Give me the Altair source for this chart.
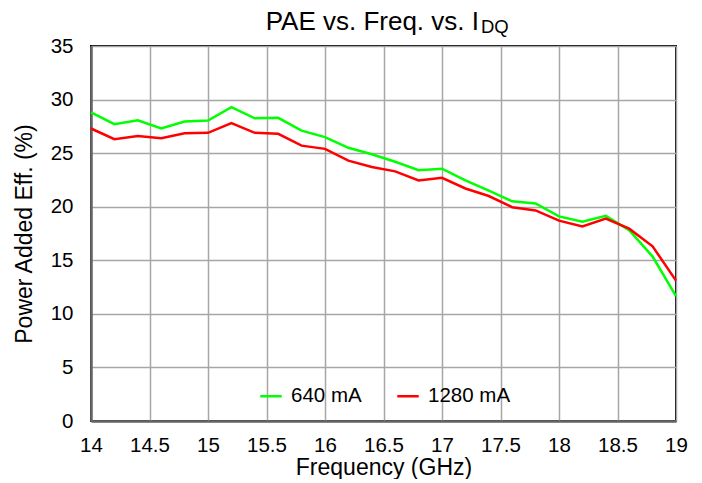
import altair as alt
import pandas as pd

freq = [14.0, 14.2, 14.4, 14.6, 14.8, 15.0, 15.2, 15.4, 15.6, 15.8, 16.0, 16.2, 16.4,
        16.6, 16.8, 17.0, 17.2, 17.4, 17.6, 17.8, 18.0, 18.2, 18.4, 18.6, 18.8, 19.0]
pae_640 = [28.8, 27.7, 28.07, 27.3, 27.95, 28.05, 29.3, 28.25, 28.3, 27.1, 26.5, 25.5, 24.9,
           24.2, 23.4, 23.55, 22.45, 21.5, 20.5, 20.3, 19.1, 18.6, 19.15, 17.8, 15.35, 11.65]
pae_1280 = [27.3, 26.3, 26.6, 26.4, 26.85, 26.9, 27.8, 26.9, 26.8, 25.7, 25.4, 24.3, 23.7,
            23.3, 22.45, 22.7, 21.7, 21.0, 19.95, 19.65, 18.7, 18.15, 18.9, 17.95, 16.3, 13.1]
series = ["640 mA", "1280 mA"]
colors = ["#00ff00", "#ff0000"]

rows = []
for f, a, b in zip(freq, pae_640, pae_1280):
    rows.append({"freq": f, "pae": a, "series": series[0]})
    rows.append({"freq": f, "pae": b, "series": series[1]})
df = pd.DataFrame(rows)

FONT = "Liberation Sans"

lines = alt.Chart(df).mark_line(strokeWidth=2.5).encode(
    x=alt.X("freq:Q", scale=alt.Scale(domain=[14, 19], nice=False),
            axis=alt.Axis(values=[14, 14.5, 15, 15.5, 16, 16.5, 17, 17.5, 18, 18.5, 19],
                          title="Frequency (GHz)", format="~g", labelFlush=False)),
    y=alt.Y("pae:Q", scale=alt.Scale(domain=[0, 35], nice=False),
            axis=alt.Axis(values=[0, 5, 10, 15, 20, 25, 30, 35], title="Power Added Eff. (%)",
                          labelFlush=False)),
    color=alt.Color("series:N", sort=series,
                    scale=alt.Scale(domain=series, range=colors),
                    legend=alt.Legend(orient="none", legendX=168, legendY=338,
                                      direction="horizontal", title=None,
                                      symbolType="stroke", symbolSize=460,
                                      symbolStrokeWidth=2.5, labelFontSize=20.5,
                                      labelFont=FONT, labelColor="#000",
                                      columnPadding=30, labelOffset=8)),
)

title_main = alt.Chart(pd.DataFrame({"t": ["PAE vs. Freq. vs. I"]})).mark_text(
    align="right", baseline="alphabetic", fontSize=26, font=FONT, color="#000"
).encode(text="t:N", x=alt.value(388), y=alt.value(-16))

title_sub = alt.Chart(pd.DataFrame({"t": ["DQ"]})).mark_text(
    align="left", baseline="alphabetic", fontSize=18.5, font=FONT, color="#000"
).encode(text="t:N", x=alt.value(390), y=alt.value(-13))

chart = alt.layer(lines, title_main, title_sub).properties(
    width=585, height=375,
    autosize=alt.AutoSizeParams(type="none"),
    padding={"left": 83, "top": 38, "right": 18, "bottom": 58},
).configure_view(
    stroke="#000", strokeWidth=2
).configure_axis(
    grid=True, gridColor="#a6a6a6", gridWidth=1.5,
    domainColor="#666", domainWidth=2.5,
    ticks=False,
    labelFont=FONT, labelFontSize=20.5, labelColor="#000",
    titleFont=FONT, titleFontSize=23, titleColor="#000", titleFontWeight="normal",
).configure_axisX(
    labelPadding=14, titlePadding=1
).configure_axisY(
    labelPadding=18, titlePadding=14
)

chart.save("out.html", embed_options={"renderer": "svg", "actions": False})
